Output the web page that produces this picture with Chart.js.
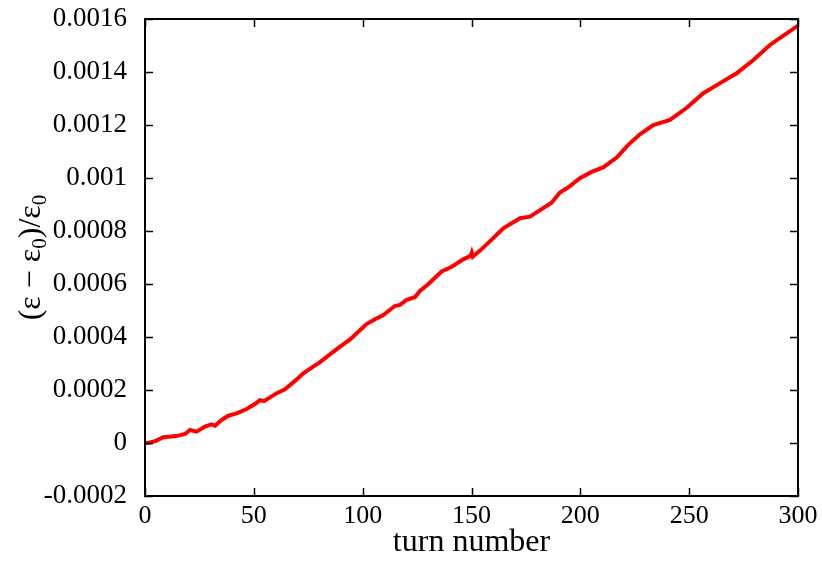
<!DOCTYPE html>
<html>
<head>
<meta charset="utf-8">
<script src="https://cdn.jsdelivr.net/npm/chart.js@4"></script>
<style>
  html, body { margin: 0; padding: 0; background: #fff; }
  #wrap { width: 822px; height: 576px; }
</style>
</head>
<body>
<div id="wrap"><canvas id="MyChart"></canvas></div>
<script>
// donnees
const turns = [0, 1.5, 5, 8.4, 14.5, 18.4, 20.7, 23.7, 27.6, 30.6, 32.2, 35.2, 38.3, 42.1, 46.7, 50.5, 52.8, 54.7, 60.5, 64.3, 69.7, 72.7, 77.3, 80.4, 88.1, 94.2, 101.8, 105.7, 109.5, 114.8, 117.1, 120.2, 124, 126.3, 130.2, 136.3, 140.9, 146.2, 149.6, 150.1, 150.6, 153.9, 160, 164.6, 172.3, 176.9, 181.5, 186.8, 190.6, 194.5, 199.8, 205.2, 210.5, 216.7, 222, 227.4, 233.5, 241.2, 248.9, 256.5, 264.2, 271.8, 279.5, 287.1, 294.8, 300]
const values = [0, 0, 0.000008, 0.0000215, 0.000026, 0.000034, 0.000049, 0.000043, 0.000062, 0.00007, 0.000065, 0.000087, 0.000103, 0.000112, 0.000128, 0.000147, 0.000162, 0.000158, 0.000188, 0.000203, 0.00024, 0.000263, 0.000288, 0.000305, 0.000354, 0.000391, 0.000449, 0.000467, 0.000483, 0.000517, 0.000521, 0.00054, 0.00055, 0.000574, 0.0006, 0.000647, 0.000665, 0.000693, 0.000706, 0.000718, 0.000703, 0.000726, 0.000773, 0.00081, 0.000848, 0.000854, 0.000879, 0.000907, 0.000945, 0.000965, 0.000999, 0.001023, 0.00104, 0.001077, 0.001125, 0.001165, 0.0012, 0.001219, 0.001265, 0.00132, 0.001358, 0.001395, 0.001445, 0.001502, 0.001546, 0.001575]
const xTicks = [0, 50, 100, 150, 200, 250, 300]
const yTicks = [-0.0002, 0, 0.0002, 0.0004, 0.0006, 0.0008, 0.001, 0.0012, 0.0014, 0.0016]

const serif = "'Liberation Serif', 'Times New Roman', serif"

points = []
turns.forEach((t, i) => { points.push({ x: t, y: values[i] }) })

// cadre + graduations vers l'interieur + titre de l'axe y avec indices
const cadre = {
    id: 'cadre',
    afterDraw(chart) {
        const c = chart.ctx
        const a = chart.chartArea
        const sx = chart.scales.x
        const sy = chart.scales.y
        const len = 8
        c.save()
        c.strokeStyle = '#000'
        c.lineWidth = 1.5
        c.beginPath()
        xTicks.forEach(v => {
            const px = Math.round(sx.getPixelForValue(v)) + 0.5
            c.moveTo(px, a.bottom); c.lineTo(px, a.bottom - len)
            c.moveTo(px, a.top); c.lineTo(px, a.top + len)
        })
        yTicks.forEach(v => {
            const py = Math.round(sy.getPixelForValue(v)) + 0.5
            c.moveTo(a.left, py); c.lineTo(a.left + len, py)
            c.moveTo(a.right, py); c.lineTo(a.right - len, py)
        })
        c.stroke()
        c.lineWidth = 2
        c.strokeRect(a.left, a.top, a.right - a.left, a.bottom - a.top)

        // (ε − ε0)/ε0
        const parts = [['(\u03b5 \u2212 \u03b5', 32, 0], ['0', 21, 8], [')/\u03b5', 32, 0], ['0', 21, 8]]
        let total = 0
        parts.forEach(p => { c.font = p[1] + 'px ' + serif; total += c.measureText(p[0]).width })
        c.translate(32, (a.top + a.bottom) / 2)
        c.rotate(-Math.PI / 2)
        c.fillStyle = '#000'
        c.textBaseline = 'middle'
        let x = -total / 2
        parts.forEach(p => {
            c.font = p[1] + 'px ' + serif
            c.fillText(p[0], x, p[2])
            x += c.measureText(p[0]).width
        })
        c.restore()
    }
}

const config = {
    type: 'line',
    data: {
        datasets: [{
            data: points,
            borderColor: '#ff0000',
            borderWidth: 4,
            pointRadius: 0,
            tension: 0,
            fill: false
        }]
    },
    options: {
        responsive: true,
        maintainAspectRatio: false,
        animation: false,
        layout: { padding: { top: 19, right: 24, left: 0, bottom: 0 } },
        plugins: { legend: { display: false }, tooltip: { enabled: false } },
        scales: {
            x: {
                type: 'linear',
                min: 0, max: 300,
                afterBuildTicks: (s) => { s.ticks = xTicks.map(v => ({ value: v })) },
                afterFit: (s) => { s.height = 80; s.paddingLeft = 0; s.paddingRight = 0 },
                grid: { display: false },
                border: { display: false },
                ticks: { color: '#000', padding: -3, maxRotation: 0, font: { family: serif, size: 26 } },
                title: { display: true, text: 'turn number', color: '#000', padding: { top: 0, bottom: 14 }, font: { family: serif, size: 32 } }
            },
            y: {
                min: -0.0002, max: 0.0016,
                afterBuildTicks: (s) => { s.ticks = yTicks.map(v => ({ value: v })) },
                afterFit: (s) => { s.width = 145; s.paddingTop = 0; s.paddingBottom = 0 },
                grid: { display: false },
                border: { display: false },
                ticks: {
                    color: '#000', padding: 10, font: { family: serif, size: 27 },
                    callback: (v) => String(Number(v.toFixed(4)))
                }
            }
        }
    },
    plugins: [cadre]
}

new Chart(document.getElementById('MyChart'), config)
</script>
</body>
</html>
